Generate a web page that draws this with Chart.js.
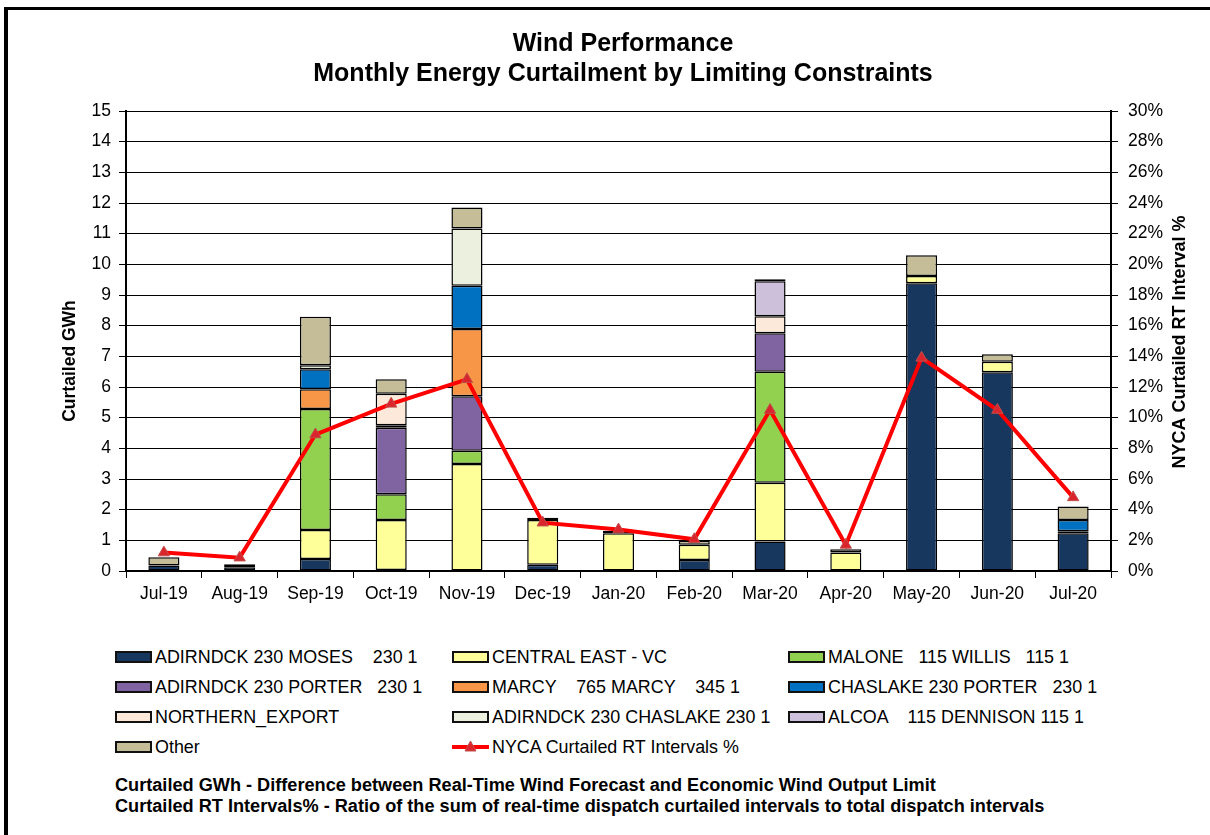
<!DOCTYPE html>
<html>
<head>
<meta charset="utf-8">
<script src="https://cdn.jsdelivr.net/npm/chart.js@4.4.1/dist/chart.umd.min.js"></script>
<style>
  html, body { margin: 0; padding: 0; background: #fff; }
  body { width: 1210px; height: 835px; overflow: hidden; position: relative; font-family: "Liberation Sans", Arial, sans-serif; }
  #frame { position: absolute; left: 4px; top: 7px; width: 1230px; height: 850px; border-left: 4px solid #000; border-top: 3px solid #000; }
  #chart { position: absolute; left: 0; top: 0; }
  .leg { position: absolute; height: 20px; display: flex; align-items: center; font-size: 17.9px; white-space: pre; color: #000; }
  .leg .box { width: 33px; height: 8px; border: 2px solid #111; margin-right: 3px; }
  .leg .ln { width: 37px; height: 20px; margin-right: 3px; position: relative; }
  .note { position: absolute; left: 115px; font-size: 18.15px; font-weight: bold; white-space: pre; }
</style>
</head>
<body>
<div id="frame"></div>
<canvas id="chart" width="1210" height="620"></canvas>
<div id="legend"></div>
<div class="note" style="top:775px">Curtailed GWh - Difference between Real-Time Wind Forecast and Economic Wind Output Limit</div>
<div class="note" style="top:796px">Curtailed RT Intervals% - Ratio of the sum of real-time dispatch curtailed intervals to total dispatch intervals</div>
<script>
const months = ['Jul-19', 'Aug-19', 'Sep-19', 'Oct-19', 'Nov-19', 'Dec-19', 'Jan-20', 'Feb-20', 'Mar-20', 'Apr-20', 'May-20', 'Jun-20', 'Jul-20'];

// curtailed GWh by limiting constraint
const moses            = [0.18, 0.12, 0.39, 0.03, 0,    0.20, 0,    0.36, 0.96, 0,    9.38, 6.48, 1.23];
const centralEast      = [0,    0,    0.95, 1.63, 3.49, 1.46, 1.23, 0.50, 1.92, 0.60, 0.24, 0.34, 0];
const malone           = [0,    0.04, 3.94, 0.84, 0.43, 0,    0,    0,    3.62, 0,    0,    0,    0.07];
const porter           = [0,    0,    0,    2.17, 1.78, 0,    0,    0,    1.25, 0,    0,    0,    0];
const marcy            = [0,    0,    0.65, 0,    2.19, 0,    0,    0,    0,    0,    0,    0,    0];
const chaslakePorter   = [0,    0,    0.65, 0.08, 1.41, 0,    0,    0,    0,    0,    0,    0,    0.36];
const northernExport   = [0,    0,    0,    1.03, 0,    0,    0,    0,    0.56, 0,    0,    0,    0];
const adirndckChaslake = [0,    0,    0.13, 0,    1.87, 0,    0,    0,    0,    0,    0,    0,    0];
const alcoa            = [0,    0,    0,    0,    0,    0,    0,    0,    1.14, 0,    0,    0,    0];
const other            = [0.27, 0.06, 1.58, 0.47, 0.68, 0.08, 0.08, 0.13, 0.06, 0.11, 0.68, 0.25, 0.44];

// NYCA curtailed RT intervals %
const rtIntervalsPct = [1.2, 0.87, 8.9, 10.9, 12.5, 3.15, 2.7, 2.07, 10.5, 1.7, 13.9, 10.5, 4.8];

const gwhTicks = [0, 1, 2, 3, 4, 5, 6, 7, 8, 9, 10, 11, 12, 13, 14, 15];
const pctTicks = [0, 2, 4, 6, 8, 10, 12, 14, 16, 18, 20, 22, 24, 26, 28, 30];

const FONT = '"Liberation Sans", Arial, sans-serif';

const barSeries = [
  ['ADIRNDCK 230 MOSES    230 1', moses, '#17375E'],
  ['CENTRAL EAST - VC', centralEast, '#FFFF99'],
  ['MALONE   115 WILLIS   115 1', malone, '#92D050'],
  ['ADIRNDCK 230 PORTER   230 1', porter, '#8064A2'],
  ['MARCY    765 MARCY    345 1', marcy, '#F79646'],
  ['CHASLAKE 230 PORTER   230 1', chaslakePorter, '#0070C0'],
  ['NORTHERN_EXPORT', northernExport, '#FDE9D9'],
  ['ADIRNDCK 230 CHASLAKE 230 1', adirndckChaslake, '#EBF1DE'],
  ['ALCOA    115 DENNISON 115 1', alcoa, '#CCC0DA'],
  ['Other', other, '#C4BD97'],
];

const datasets = barSeries.map(([label, vals, color]) => ({
  type: 'bar',
  label: label,
  data: vals.map(v => v || null),
  backgroundColor: color,
  borderColor: '#000',
  borderWidth: 1.5,
  borderSkipped: false,
  barPercentage: 0.41,
  categoryPercentage: 1,
  stack: 'gwh',
  yAxisID: 'y',
  order: 1,
}));

datasets.push({
  type: 'line',
  label: 'NYCA Curtailed RT Intervals %',
  data: rtIntervalsPct,
  borderColor: '#FF0000',
  borderWidth: 4,
  pointStyle: 'triangle',
  pointRadius: 6.5,
  pointBackgroundColor: '#D9252B',
  pointBorderColor: '#C0504D',
  pointBorderWidth: 1,
  tension: 0,
  yAxisID: 'y1',
  order: 0,
});

const axisTitles = {
  id: 'axisTitles',
  afterDraw(chart) {
    const ctx = chart.ctx;
    ctx.save();
    ctx.fillStyle = '#000';
    ctx.textAlign = 'center';
    ctx.textBaseline = 'middle';
    ctx.font = 'bold 17.5px ' + FONT;
    ctx.translate(70, 361);
    ctx.rotate(-Math.PI / 2);
    ctx.fillText('Curtailed GWh', 0, 0);
    ctx.restore();
    ctx.save();
    ctx.fillStyle = '#000';
    ctx.textAlign = 'center';
    ctx.textBaseline = 'middle';
    ctx.font = 'bold 18px ' + FONT;
    ctx.translate(1180, 342);
    ctx.rotate(-Math.PI / 2);
    ctx.fillText('NYCA Curtailed RT Interval %', 0, 0);
    ctx.restore();
  }
};

const tickFont = { family: FONT, size: 17.5 };

const chart = new Chart(document.getElementById('chart').getContext('2d'), {
  data: { labels: months, datasets: datasets },
  plugins: [axisTitles],
  options: {
    responsive: false,
    animation: false,
    devicePixelRatio: 1,
    layout: { padding: { top: 11, left: 65, right: 29, bottom: 9 } },
    plugins: {
      legend: { display: false },
      tooltip: { enabled: false },
      title: {
        display: true,
        text: ['Wind Performance', 'Monthly Energy Curtailment by Limiting Constraints'],
        color: '#000',
        font: { family: FONT, size: 25, weight: 'bold', lineHeight: 1.2 },
        padding: { top: 18, bottom: 22 },
      },
    },
    scales: {
      x: {
        stacked: true,
        offset: true,
        grid: { display: true, drawOnChartArea: false, drawTicks: true, tickLength: 7, color: '#000', offset: true },
        border: { display: true, color: '#000', width: 2 },
        ticks: { color: '#000', font: tickFont, padding: 6, maxRotation: 0 },
        afterFit(scale) { scale.height = 40; },
      },
      y: {
        stacked: true,
        position: 'left',
        min: 0,
        max: 15,
        afterBuildTicks(scale) { scale.ticks = gwhTicks.map(v => ({ value: v })); },
        grid: { color: '#000', lineWidth: 1, tickLength: 7 },
        border: { display: true, color: '#000', width: 2 },
        ticks: { color: '#000', font: tickFont, padding: 8 },
        afterFit(scale) { scale.width = 61; },
      },
      y1: {
        position: 'right',
        min: 0,
        max: 30,
        afterBuildTicks(scale) { scale.ticks = pctTicks.map(v => ({ value: v })); },
        grid: { drawOnChartArea: false, color: '#000', tickLength: 7 },
        border: { display: true, color: '#000', width: 2 },
        ticks: { color: '#000', font: tickFont, padding: 10, callback: v => v + '%' },
        afterFit(scale) { scale.width = 70; },
      },
    },
  },
});

// legend in three columns, built from the chart's datasets
const legendEl = document.getElementById('legend');
const colX = [115, 452, 788];
const rowY = [647, 677, 707, 737];
chart.data.datasets.forEach((ds, i) => {
  const item = document.createElement('div');
  item.className = 'leg';
  item.style.left = colX[i % 3] + 'px';
  item.style.top = rowY[Math.floor(i / 3)] + 'px';
  let mark;
  if (ds.type === 'line') {
    mark = document.createElement('canvas');
    mark.width = 37; mark.height = 20;
    mark.className = 'ln';
    const c = mark.getContext('2d');
    c.strokeStyle = ds.borderColor; c.lineWidth = 4;
    c.beginPath(); c.moveTo(0, 10); c.lineTo(37, 10); c.stroke();
    c.fillStyle = ds.pointBackgroundColor; c.strokeStyle = ds.pointBorderColor; c.lineWidth = 1;
    c.beginPath(); c.moveTo(18.5, 4); c.lineTo(24, 14); c.lineTo(13, 14); c.closePath(); c.fill(); c.stroke();
  } else {
    mark = document.createElement('div');
    mark.className = 'box';
    mark.style.background = ds.backgroundColor;
  }
  item.appendChild(mark);
  item.appendChild(document.createTextNode(ds.label));
  legendEl.appendChild(item);
});
</script>
</body>
</html>
